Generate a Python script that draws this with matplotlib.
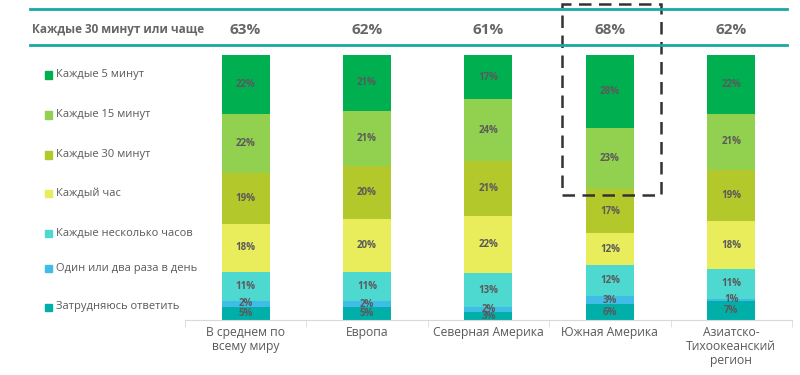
import matplotlib
matplotlib.use('Agg')
import matplotlib.pyplot as plt
from matplotlib.lines import Line2D
from matplotlib.patches import Rectangle
import numpy as np

# regions (x axis)
regions = ['В среднем по\nвсему миру', 'Европа', 'Северная Америка',
           'Южная Америка', 'Азиатско-\nТихоокеанский\nрегион']

# answer options, bottom of the stack first
series = ['Затрудняюсь ответить', 'Один или два раза в день',
          'Каждые несколько часов', 'Каждый час', 'Каждые 30 минут',
          'Каждые 15 минут', 'Каждые 5 минут']

unsure = [5, 5, 3, 6, 7]
once_twice = [2, 2, 2, 3, 1]
few_hours = [11, 11, 13, 12, 11]
hourly = [18, 20, 22, 12, 18]
every_30 = [19, 20, 21, 17, 19]
every_15 = [22, 21, 24, 23, 21]
every_5 = [22, 21, 17, 28, 22]

# share answering "every 30 minutes or more often"
often_total = [63, 62, 61, 68, 62]
often_label = 'Каждые 30 минут или чаще'

colors = ['#00AFA8', '#40BDE6', '#4DD9CF', '#E9EC5B', '#B3C92B', '#92D050', '#00B050']

values = np.array([unsure, once_twice, few_hours, hourly, every_30, every_15, every_5], dtype=float)
shares = values / values.sum(axis=0)  # Excel 100% stacked

plt.rcParams['font.family'] = ['Open Sans', 'DejaVu Sans']
gray = '#595959'

fig = plt.figure(figsize=(8, 3.75), dpi=100)
ax = fig.add_axes([0.231, 0.1467, 0.759, 0.7067])

x = np.arange(len(regions))
bottom = np.zeros(len(regions))
for i, name in enumerate(series):
    ax.bar(x, shares[i], 0.395, bottom=bottom, color=colors[i], label=name)
    for j in range(len(regions)):
        ax.text(x[j], bottom[j] + shares[i][j] / 2, f'{int(values[i][j])}%',
                ha='center', va='center', fontsize=7, fontweight='bold',
                color='#5a5a5a')
    bottom += shares[i]

ax.set_xlim(-0.5, len(regions) - 0.5)
ax.set_ylim(0, 1)
for s in ['top', 'right', 'left']:
    ax.spines[s].set_visible(False)
ax.spines['bottom'].set_color('#D9D9D9')
ax.set_yticks([])
ax.set_xticks(x)
ax.set_xticklabels(regions, fontsize=8.7, color=gray, linespacing=1.1)
ax.tick_params(axis='x', length=0, pad=4)
ax.set_xticks(np.arange(-0.5, len(regions)), minor=True)
ax.tick_params(axis='x', which='minor', length=5, color='#D9D9D9')

# header band
teal = '#1AA8A3'
for yy in [1 - 9 / 375, 1 - 45 / 375]:
    fig.add_artist(Line2D([30 / 800, 787 / 800], [yy, yy], color=teal, lw=2))
fig.text(32 / 800, 1 - 30 / 375, often_label, fontsize=8.5, fontweight='bold',
         color='#666666', va='center')
for j, v in enumerate(often_total):
    xf = ax.transData.transform((x[j], 0))
    xf = fig.transFigure.inverted().transform(xf)[0]
    fig.text(xf, 1 - 30 / 375, f'{v}%', fontsize=11, fontweight='bold',
             color='#666666', ha='center', va='center')

# legend, top entry first
leg_y = [75, 115, 155, 193, 233, 268, 307]
for k, name in enumerate(series[::-1]):
    yy = 1 - leg_y[k] / 375
    fig.add_artist(Rectangle((45 / 800, yy - 3.5 / 375), 7 / 800, 7 / 375,
                             transform=fig.transFigure, color=colors[::-1][k]))
    fig.text(56 / 800, yy, name, fontsize=8, color=gray, va='center')

# dashed highlight box around South America
fig.add_artist(Rectangle((562 / 800, 1 - 195 / 375), 99 / 800, 191 / 375,
                         transform=fig.transFigure, fill=False, ec='#333333',
                         lw=1.8, ls=(0, (5, 3))))

fig.savefig('out.png', dpi=100)
